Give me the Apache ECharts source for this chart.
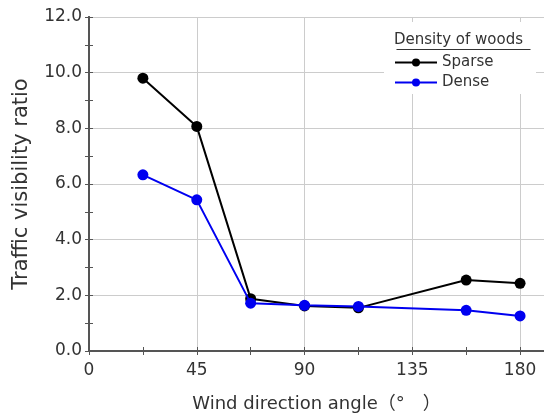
<!DOCTYPE html>
<html><head><meta charset="utf-8">
<script src="https://cdn.jsdelivr.net/npm/echarts@6/dist/echarts.min.js"></script>
<style>html,body{margin:0;padding:0;background:#fff}#c{width:544px;height:418px}</style>
</head><body><div id="c"></div>
<script>
const angles = [22.5, 45, 67.5, 90, 112.5, 157.5, 180];
const sparse = [9.8, 8.07, 1.88, 1.62, 1.55, 2.55, 2.43];
const dense = [6.33, 5.43, 1.72, 1.64, 1.6, 1.46, 1.26];
const seriesNames = ['Sparse', 'Dense'];
const legendTitle = 'Density of woods';
const xName = 'Wind direction angle（°　）';
const yName = 'Traffic visibility ratio';

const FONT = '"DejaVu Sans", "Noto Sans CJK JP", sans-serif';
const axisCol = '#555';
const txtCol = '#333';
const chart = echarts.init(document.getElementById('c'));
chart.setOption({
  animation: false,
  grid: {left: 89, top: 17, right: -3, bottom: 65},
  title: {text: legendTitle, left: 394, top: 33, padding: 0, z: 10,
    textStyle: {fontFamily: FONT, fontSize: 15, fontWeight: 'normal', color: txtCol}},
  legend: {
    orient: 'vertical', left: 392, top: 53, itemGap: 5, itemWidth: 42, itemHeight: 10,
    padding: [2, 2, 2, 2], z: 10,
    textStyle: {fontFamily: FONT, fontSize: 15, color: txtCol},
    data: seriesNames
  },
  xAxis: [{
    type: 'value', min: 0, max: 190, interval: 45,
    name: xName, nameLocation: 'middle', nameGap: 44,
    nameTextStyle: {fontFamily: FONT, fontSize: 18, color: txtCol},
    axisLine: {show: true, lineStyle: {color: axisCol, width: 2}},
    axisTick: {show: true, inside: true, length: 4, lineStyle: {color: axisCol}},
    minorTick: {show: true, splitNumber: 2, length: 4, lineStyle: {color: axisCol}},
    axisLabel: {fontFamily: FONT, fontSize: 17, color: txtCol, margin: 11, showMaxLabel: false,
      formatter: v => (v % 45 === 0 ? String(v) : '')},
    splitLine: {show: true, lineStyle: {color: '#ccc', width: 1}}
  }, {
    type: 'value', min: 0, max: 190, interval: 22.5, position: 'top',
    axisLine: {show: true, lineStyle: {color: axisCol, width: 2}},
    axisTick: {show: true, inside: true, length: 4, lineStyle: {color: axisCol}},
    axisLabel: {show: false}, splitLine: {show: false}
  }],
  yAxis: [{
    type: 'value', min: 0, max: 12, interval: 2,
    name: yName, nameLocation: 'middle', nameGap: 57,
    nameTextStyle: {fontFamily: FONT, fontSize: 21, color: txtCol},
    axisLine: {show: true, lineStyle: {color: axisCol, width: 2}},
    axisTick: {show: true, inside: true, length: 4, lineStyle: {color: axisCol}},
    minorTick: {show: true, splitNumber: 2, length: 4, lineStyle: {color: axisCol}},
    axisLabel: {fontFamily: FONT, fontSize: 17, color: txtCol, margin: 7, formatter: v => v.toFixed(1)},
    splitLine: {show: true, lineStyle: {color: '#ccc', width: 1}}
  }, {
    type: 'value', min: 0, max: 12, interval: 1, position: 'right',
    axisLine: {show: true, lineStyle: {color: axisCol, width: 2}},
    axisTick: {show: true, inside: true, length: 4, lineStyle: {color: axisCol}},
    axisLabel: {show: false}, splitLine: {show: false}
  }],
  graphic: [{
    type: 'rect', left: 384, top: 22, z: 1,
    shape: {width: 152, height: 72},
    style: {fill: '#fff'}
  }, {
    type: 'line', left: 394, top: 47, z: 100,
    shape: {x1: 0, y1: 0, x2: 134, y2: 0},
    style: {stroke: txtCol, lineWidth: 1}
  }],
  series: [{
    name: seriesNames[0], type: 'line', symbol: 'circle', symbolSize: 11,
    data: angles.map((a, i) => [a, sparse[i]]),
    itemStyle: {color: '#000'}, lineStyle: {color: '#000', width: 2}, z: 3
  }, {
    name: seriesNames[1], type: 'line', symbol: 'circle', symbolSize: 11,
    data: angles.map((a, i) => [a, dense[i]]),
    itemStyle: {color: '#0000f0'}, lineStyle: {color: '#0000f0', width: 2}, z: 4
  }]
});
</script></body></html>
